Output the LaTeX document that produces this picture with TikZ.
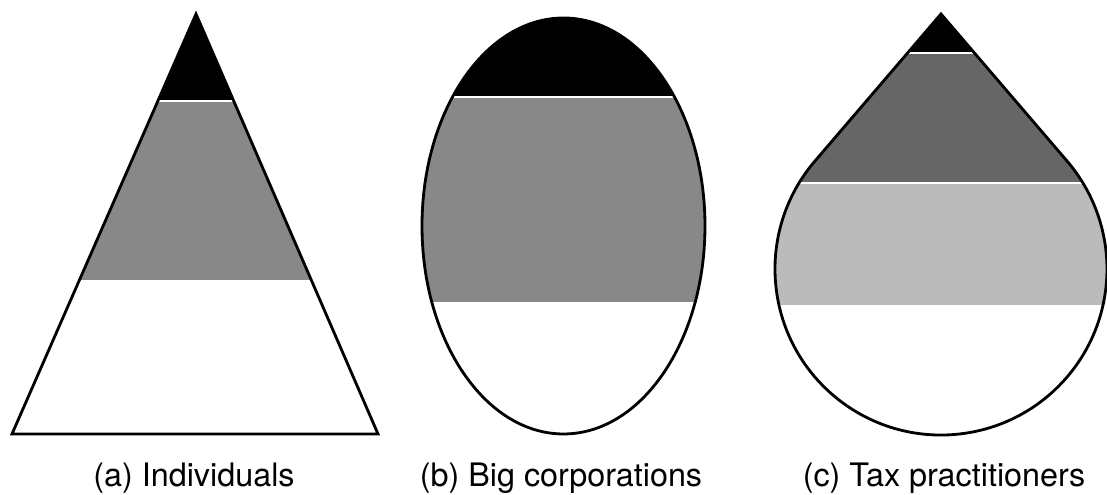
\documentclass[tikz,border=0pt]{standalone}
\usepackage{fontspec}
\setmainfont{TeX Gyre Heros}
\definecolor{midgray}{HTML}{888888}
\definecolor{deepgray}{HTML}{666666}
\definecolor{palegray}{HTML}{BBBBBB}
\tikzset{
  outline/.style={draw=black,line width=0.8pt},
  gapline/.style={draw=white,line width=0.65pt},
  caption/.style={font=\fontsize{9.2}{11}\selectfont,anchor=base},
}

\begin{document}
\begin{tikzpicture}
        \useasboundingbox (0,0) rectangle (11.07,4.95);
        \begin{scope}
          \clip (1.96,4.81) -- (3.78,0.61) -- (0.12,0.61) -- cycle;
          \fill[black] (0,3.94) rectangle (4,5);
          \fill[midgray] (0,2.15) rectangle (4,3.94);
          \draw[gapline] (0,3.94) -- (4,3.94);
        \end{scope}
        \draw[outline] (1.96,4.81) -- (3.78,0.61) -- (0.12,0.61) -- cycle;
        \begin{scope}
          \clip (5.635,2.69) ellipse [x radius=1.415,y radius=2.08];
          \fill[black] (4,3.98) rectangle (7.2,5);
          \fill[midgray] (4,1.93) rectangle (7.2,3.98);
          \draw[gapline] (4,3.98) -- (7.2,3.98);
        \end{scope}
        \draw[outline] (5.635,2.69) ellipse [x radius=1.415,y radius=2.08];
        \begin{scope}
          \clip (9.41,4.81) -- (8.15,3.34) arc[start angle=139.38,end angle=400.62,radius=1.66] -- cycle;
          \fill[black] (7.6,4.42) rectangle (11.2,5);
          \fill[deepgray] (7.6,3.12) rectangle (11.2,4.42);
          \fill[palegray] (7.6,1.90) rectangle (11.2,3.12);
          \draw[gapline] (7.6,4.42) -- (11.2,4.42);
          \draw[gapline] (7.6,3.12) -- (11.2,3.12);
        \end{scope}
        \draw[outline] (9.41,4.81) -- (8.15,3.34) arc[start angle=139.38,end angle=400.62,radius=1.66] -- cycle;
        \node[caption] (capa) at (1.94,0.08) {(a) Individuals};
        \node[caption] (capb) at (5.61,0.08) {(b) Big corporations};
        \node[caption] (capc) at (9.44,0.08) {(c) Tax practitioners};
      \end{tikzpicture}
\end{document}
